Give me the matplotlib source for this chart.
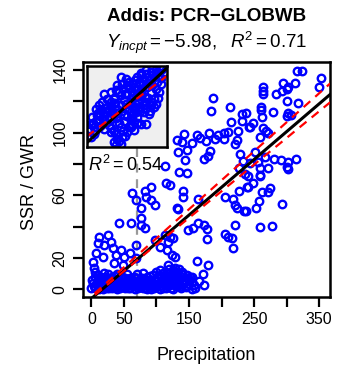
import matplotlib
matplotlib.use('Agg')
import matplotlib.pyplot as plt
import numpy as np

plt.rcParams['font.family'] = ['Liberation Sans', 'DejaVu Sans']
plt.rcParams['mathtext.fontset'] = 'custom'
plt.rcParams['mathtext.rm'] = 'Liberation Sans'
plt.rcParams['mathtext.it'] = 'Liberation Sans:italic'

# main scatter: precipitation vs SSR / GWR
precip = [186.4, 184.3, 212.6, 232.0, 232.0, 214.6, 242.4, 142.7, 131.0, 138.7,
          154.1, 162.2, 167.3, 175.7, 181.2, 190.0, 195.1, 203.9, 210.5, 225.4,
          203.4, 223.4, 220.8, 146.4, 133.4, 182.3, 179.7, 173.5, 143.8, 228.5,
          233.6, 134.5, 146.4, 226.5, 236.2, 113.0,
          315.9, 324.5, 353.3, 350.2, 264.4, 264.4, 264.4, 295.2, 302.9, 313.3,
          284.0, 293.7, 300.5, 300.5, 318.3, 260.9, 260.9, 278.9, 302.9, 306.6,
          300.5, 261.9, 237.7, 249.0, 243.9, 264.4, 268.1, 272.1, 259.3, 251.6,
          267.0, 281.4, 291.7, 302.9, 314.3, 300.5, 302.9, 259.3, 271.2, 259.3,
          243.9, 256.7,
          241.3, 259.3, 240.4, 261.9, 272.1, 274.7, 257.8, 252.7, 237.8, 292.8,
          259.3, 277.3, 249.0,
          120.6, 141.1, 141.1, 131.0, 133.4, 164.3, 205.4, 218.2, 220.8, 223.4,
          235.1, 227.0, 238.8, 148.8, 156.5, 164.3, 173.5, 177.2, 177.2, 205.4,
          210.5, 215.7, 220.8, 218.2, 120.6, 118.0, 125.7, 115.6, 123.3, 128.4,
          161.8, 179.7, 172.0, 154.1, 173.5, 154.1, 118.0, 128.4, 138.7, 146.4,
          133.4, 123.3, 115.6, 133.4, 143.8,
          62.6, 68.7, 81.7, 91.8, 84.1, 91.8, 97.1, 76.4, 114.9, 43.1,
          60.1, 76.4, 76.4, 81.7, 12.3, 25.1, 9.7, 20.0, 7.1, 17.4,
          2.0, 4.6, 30.2, 32.8, 37.9, 45.6, 50.8, 58.6, 35.4, 48.2,
          68.7, 68.7, 97.1, 104.8, 112.5,
          0, 3, 5, 8, 10, 12, 15, 18, 20, 22, 25, 27, 30, 33, 35, 38, 40, 42,
          45, 47, 50, 52, 55, 57, 60, 62, 65, 67, 70, 72, 75, 77, 80, 82, 85,
          87, 90, 92, 95, 97, 100, 102, 105, 107, 110, 112, 115, 117, 120, 122,
          125, 127, 130, 132, 135, 138, 140, 142, 145, 148, 150, 125, 115, 105,
          135, 110, 95, 85, 60, 45, 25, 10, 65, 78, 88, 32, 15, 155, 160, 165,
          1, 4, 6, 9, 11, 13, 16, 19, 21, 24, 26, 29, 31, 34, 36, 39, 41, 44,
          46, 49, 51, 54, 56, 59, 61, 64, 66, 69, 71, 74, 76, 79, 81, 84, 86,
          89, 91, 94, 96, 99, 101, 104, 106, 109, 111, 114, 116, 119, 121, 124,
          126, 129, 131, 134, 137, 139, 141, 144, 147, 152, 157, 128, 120, 100,
          80, 70, 55, 40, 20, 5]
ssr = [121.9, 113.9, 116.3, 111.6, 107.3, 106.5, 103.5, 99.0, 95.0, 93.7,
       93.1, 98.2, 96.3, 94.8, 99.9, 95.7, 98.4, 99.5, 100.5, 101.2,
       95.7, 95.2, 92.5, 88.6, 87.5, 88.2, 85.0, 82.9, 82.4, 86.1,
       82.0, 75.0, 74.3, 77.1, 73.3, 78.6,
       139.5, 139.5, 134.6, 129.3, 129.3, 126.7, 124.4, 131.8, 129.3, 131.4,
       124.6, 126.7, 127.6, 120.3, 119.0, 116.5, 114.4, 113.3, 112.3, 111.2,
       110.5, 110.1, 112.3, 106.3, 103.3, 102.7, 101.2, 99.9, 96.9, 87.7,
       84.5, 83.1, 82.4, 81.3, 82.9, 78.1, 76.5, 77.5, 77.5, 72.8,
       80.3, 81.3,
       72.2, 72.2, 65.4, 62.2, 61.8, 64.7, 56.2, 51.6, 49.8, 54.1,
       39.4, 40.3, 67.5,
       66.5, 62.6, 59.0, 51.9, 50.9, 57.3, 59.0, 57.5, 53.7, 51.6,
       49.8, 62.6, 65.4, 37.7, 39.2, 42.0, 40.9, 38.3, 31.9, 35.0,
       33.4, 32.4, 40.9, 26.0, 33.4, 30.2, 32.4, 24.9, 21.7, 20.6,
       17.9, 15.3, 10.0, 7.9, 2.6, 0.4, 15.3, 13.2, 11.1, 8.9,
       6.8, 4.7, 2.6, 2.6, 4.7,
       61.2, 56.9, 62.6, 65.4, 59.0, 56.9, 53.7, 51.6, 67.5, 42.4,
       42.4, 45.2, 40.9, 38.8, 33.4, 34.5, 29.2, 28.1, 22.8, 20.6,
       17.4, 13.2, 30.2, 26.0, 21.7, 24.9, 20.6, 22.8, 16.4, 15.3,
       28.1, 19.6, 31.3, 27.0, 34.5,
       1, 4, 0.5, 2.5, 6, 1, 3.5, 0, 5.5, 2, 7, 0.5, 3, 5, 1.5, 6.5, 0, 3.5,
       2, 7.5, 4.5, 0.5, 2.5, 6, 1, 4, 8, 0, 3, 5.5, 1.5, 7, 3.5, 0.5, 5,
       2, 8.5, 0, 4, 6.5, 1.5, 3, 9, 5, 0.5, 7, 2.5, 10, 4.5, 1,
       12, 6, 2, 8, 3.5, 0.5, 10, 5, 1.5, 7, 3, 8.5, 6, 12.5,
       13, 10.5, 9, 8, 7, 8.5, 9.5, 9, 5.5, 4.5, 6, 7.8, 7.5, 4.5, 1, 5,
       6, 2, 8, 4.5, 0, 6.5, 1.5, 4, 8, 1, 4.5, 6, 1, 3, 8.5, 2, 5, 0.5,
       5, 2, 7, 4, 1, 4.5, 6.5, 2, 4, 7, 1, 4, 6, 1, 6.5, 3, 0,
       4, 6, 2, 0.5, 5, 7.5, 2, 0, 4, 8.5, 1, 4, 7, 2.5, 5,
       0, 4.5, 10.5, 6.5, 2, 8, 3, 6, 2, 8, 2.5, 11, 13, 11,
       10.5, 10, 9.5, 9.5, 10.5, 11]

# inset scatter (arbitrary units 0-100)
inset_x = [42.1, 48.3, 52.5, 50.4, 44.2, 38.0, 66.9, 73.1, 79.3, 85.5, 91.7, 95.9,
           71.1, 77.3, 83.5, 87.6, 64.9, 58.7, 21.5, 29.8, 36.0, 25.6, 19.4, 15.3,
           11.2, 17.4, 33.9, 42.1, 50.4, 56.6, 62.8, 69.0, 75.2, 79.3, 83.5, 85.5,
           79.3, 73.1, 66.9, 60.7, 54.5, 48.3, 42.1, 38.0, 29.8, 23.6, 13.2, 7.0,
           5.0, 9.1, 15.3, 21.5, 27.7, 33.9, 46.3, 54.5, 60.7, 64.9, 71.1, 77.3,
           66.9, 73.1, 54.5, 52.5, 58.7, 50.4, 36.0, 38.0, 42.1, 33.9, 44.2, 62.8,
           56.6, 9.1, 5.0, 21.5, 27.7, 42.1, 29.8, 88.0, 92.0, 68.0, 60.0, 46.0,
           35.0, 24.0, 14.0, 8.0, 3.0, 56.0, 66.0, 80.0,
           30, 35, 40, 45, 47, 53, 57, 60, 63, 68, 74, 81, 86, 90, 93, 70, 76,
           81, 86, 90, 92, 60, 55, 62, 68, 72, 76, 80, 70, 64, 58, 50, 44, 38,
           32, 26, 20, 17, 12, 8, 4, 10, 16, 24, 30, 36, 40, 46, 50, 56, 60,
           66, 74, 78, 84, 88, 30, 34, 45, 48, 40, 36, 55, 62]
inset_y = [86.4, 84.4, 80.2, 76.1, 78.2, 76.1, 88.5, 90.5, 92.6, 94.7, 96.7, 92.6,
           84.4, 82.3, 86.4, 80.2, 80.2, 74.1, 65.8, 67.9, 70.0, 59.7, 55.6, 51.4,
           47.3, 45.3, 59.7, 63.8, 65.8, 67.9, 70.0, 72.0, 74.1, 67.9, 59.7, 53.5,
           51.4, 55.6, 59.7, 61.7, 55.6, 53.5, 51.4, 47.3, 49.4, 43.2, 39.1, 37.0,
           28.8, 24.7, 32.9, 35.0, 37.0, 39.1, 39.1, 43.2, 43.2, 47.3, 43.2, 41.2,
           28.8, 28.8, 32.9, 24.7, 20.6, 18.5, 16.5, 10.3, 4.1, 6.2, 12.3, 37.0,
           28.8, 16.5, 12.3, 22.6, 26.7, 24.7, 18.5, 88.0, 85.0, 64.0, 50.0, 58.0,
           54.0, 48.0, 42.0, 30.0, 20.0, 36.0, 50.0, 76.0,
           55, 62, 68, 72, 66, 73, 78, 83, 86, 92, 95, 97, 90, 88, 96, 78, 79,
           76, 72, 68, 78, 72, 60, 64, 66, 62, 60, 56, 52, 54, 50, 47, 44, 42,
           45, 46, 42, 38, 32, 28, 22, 20, 26, 30, 34, 36, 30, 32, 38, 40, 46,
           44, 48, 45, 50, 60, 24, 20, 20, 14, 8, 2, 25, 30]

# regression lines (intercept, slope)
fit_main = (-5.98, 0.355)
band_up = (-4.5, 0.37)
band_lo = (-5.5, 0.34)
fit_inset = (5.0, 0.93)
fit_inset_red = (13.0, 0.75)
vline_x = 70

fig = plt.figure(figsize=(3.4, 3.72), dpi=100)
ax = fig.add_axes([0.244, 0.2016, 0.727, 0.6317])

ax.axvline(vline_x, color='#999999', lw=1.6, ls=(0, (4, 3)), zorder=1)
ax.plot(precip, ssr, 'o', ms=5.4, mfc='none', mec='blue', mew=1.7, zorder=2)

xx = np.array([-13, 367])
ax.plot(xx, fit_main[0] + fit_main[1] * xx, color='black', lw=2.2, zorder=3)
ax.plot(xx, band_up[0] + band_up[1] * xx, color='red', lw=1.6, ls=(0, (4, 3)), zorder=4)
ax.plot(xx, band_lo[0] + band_lo[1] * xx, color='red', lw=1.6, ls=(0, (4, 3)), zorder=4)

ax.set_xlim(-13, 367)
ax.set_ylim(-5, 145)
ax.set_xticks(range(0, 351, 50))
ax.set_xticklabels(['0', '50', '', '150', '', '250', '', '350'])
ax.set_yticks(range(0, 141, 20))
ax.set_yticklabels(['0', '20', '', '60', '', '100', '', '140'], rotation=90, va='center')
ax.tick_params(length=7, width=1.6, labelsize=11.5, pad=4)
for s in ax.spines.values():
    s.set_linewidth(1.8)

ax.text(-6, 79, r'$\mathit{R}^2 = 0.54$', fontsize=13, ha='left', va='center')

ins = fig.add_axes([0.255, 0.6048, 0.237, 0.2177])
ins.set_facecolor('#efefef')
ins.plot(inset_x, inset_y, 'o', ms=5.4, mfc='none', mec='blue', mew=1.7)
uu = np.array([0, 100])
ins.plot(uu, fit_inset[0] + fit_inset[1] * uu, color='black', lw=2.2)
ins.plot(uu, fit_inset_red[0] + fit_inset_red[1] * uu, color='red', lw=1.6, ls=(0, (4, 3)))
ins.set_xlim(0, 100)
ins.set_ylim(0, 100)
ins.set_xticks([])
ins.set_yticks([])
for s in ins.spines.values():
    s.set_linewidth(1.8)

fig.text(0.607, 1 - 16.5 / 372, 'Addis: PCR\u2212GLOBWB', fontsize=13.5, fontweight='bold',
         ha='center', va='center')
fig.text(0.607, 1 - 43 / 372, r'$\mathit{Y}_{\mathit{incpt}} = -5.98,\ \ \mathit{R}^2 = 0.71$',
         fontsize=13.5, ha='center', va='center')
fig.text(0.607, 1 - 355 / 372, 'Precipitation', fontsize=13, ha='center', va='center')
fig.text(30 / 340, 1 - 182 / 372, 'SSR / GWR', fontsize=13, rotation=90, ha='center', va='center')

fig.savefig('out.png', dpi=100)
